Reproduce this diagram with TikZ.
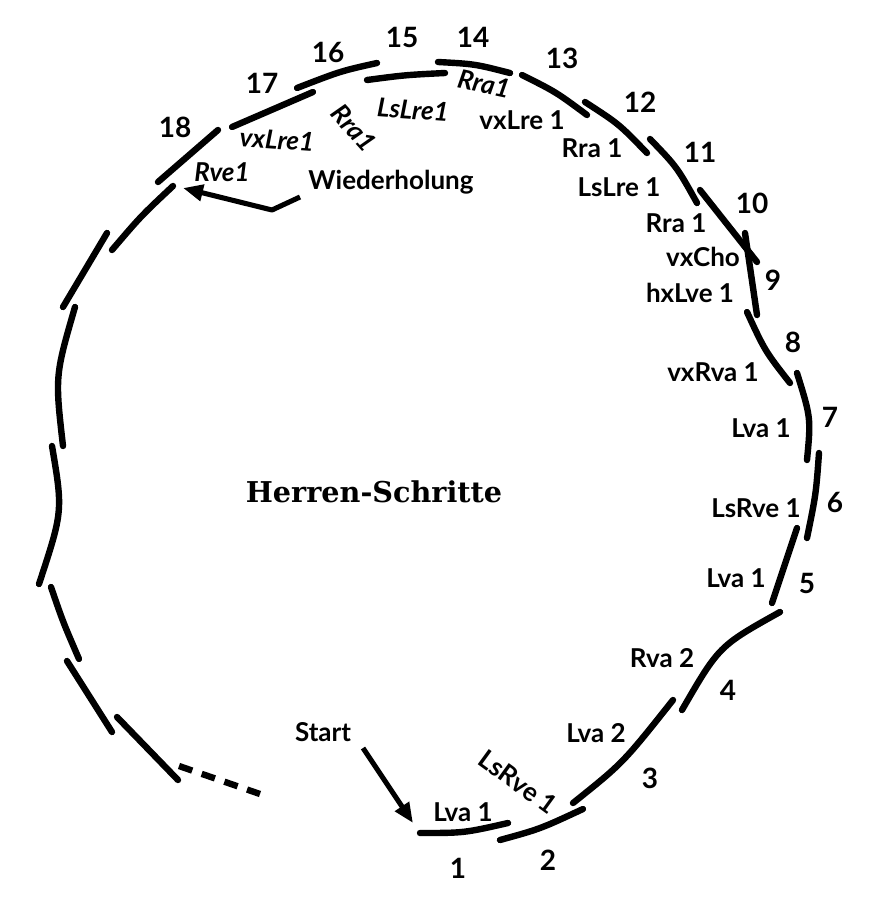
\documentclass[tikz,border=0pt]{standalone}
\usepackage{fontspec}
\setmainfont{Lato}
\newfontfamily\titlefont{DejaVu Serif}
\usetikzlibrary{arrows.meta}
\begin{document}
\begin{tikzpicture}[x=0.75pt,y=-0.75pt,
  seg/.style={line width=4.8pt, line cap=round},
  dashseg/.style={line width=4.8pt, dash pattern=on 10.5pt off 7.5pt},
  arr/.style={line width=3.8pt, line join=round, -{Triangle[length=15pt,width=12pt]}},
  num/.style={font=\fontsize{21}{21}\selectfont\bfseries, inner sep=0pt},
  lab/.style={font=\fontsize{19.5}{19.5}\selectfont\bfseries, inner sep=0pt},
  hand/.style={font=\fontsize{19.5}{19.5}\selectfont\bfseries\itshape, inner sep=0pt},
  title/.style={font=\fontsize{21.5}{21.5}\selectfont\titlefont\bfseries, inner sep=0pt}]
\fill[white] (0,0) rectangle (880,900);
\useasboundingbox (0,0) rectangle (880,900);

% track segments (step 1 .. 18 and the return path)
\draw[seg] (420,833) .. controls (464,833) .. (508,823);
\draw[seg] (500,840) .. controls (540,829) .. (583,809);
\draw[seg] (573,803) .. controls (623,763) .. (673,700);
\draw[seg] (682,710) .. controls (719,646) .. (780,612);
\draw[seg] (772,603) -- (797,528);
\draw[seg] (807,538) .. controls (816,494) .. (819,453);
\draw[seg] (807,460) .. controls (811,418) .. (797,373);
\draw[seg] (790,383) .. controls (765,351) .. (747,312);
\draw[seg] (757,315) -- (745,233);
\draw[seg] (700,190) -- (757,262);
\draw[seg] (650,139) .. controls (677,167) .. (697,203);
\draw[seg] (585,102) .. controls (619,124) .. (647,153);
\draw[seg] (522,75) .. controls (556,92) .. (587,115);
\draw[seg] (438,62) .. controls (475,64) .. (510,73);
\draw[seg] (367,80) .. controls (405,75) .. (445,73);
\draw[seg] (297,88) .. controls (341,71) .. (377,63);
\draw[seg] (232,127) -- (313,92);
\draw[seg] (218,130) -- (158,182);
\draw[seg] (173,186) .. controls (141,216) .. (112,250);
\draw[seg] (107,233) -- (63,307);
\draw[seg] (75,307) .. controls (55,376) .. (63,446);
\draw[seg] (52,446) .. controls (63,511) .. (39,584);
\draw[seg] (51,587) .. controls (63,622) .. (79,659);
\draw[seg] (67,661) -- (112,732);
\draw[seg] (117,717) -- (178,780);
\draw[dashseg] (179,766) -- (260,794);

% arrows
\coordinate (startTail) at (363,748);
\coordinate (startTip) at (413,823);
\draw[arr] (startTail) -- (startTip);
\coordinate (wA) at (300,197);
\coordinate (wB) at (272,210);
\coordinate (wTip) at (183,188);
\draw[arr] (wA) -- (wB) -- (wTip);

% numbers
\node[num] (n1) at (458,868) {1};
\node[num] (n2) at (548,860) {2};
\node[num] (n3) at (650,778) {3};
\node[num] (n4) at (728,690) {4};
\node[num] (n5) at (807,583) {5};
\node[num] (n6) at (835,502) {6};
\node[num] (n7) at (830,417) {7};
\node[num] (n8) at (793,342) {8};
\node[num] (n9) at (773,280) {9};
\node[num] (n10) at (752,203) {10};
\node[num] (n11) at (700,152) {11};
\node[num] (n12) at (640,102) {12};
\node[num] (n13) at (562,58) {13};
\node[num] (n14) at (473,37) {14};
\node[num] (n15) at (402,37) {15};
\node[num] (n16) at (328,52) {16};
\node[num] (n17) at (262,83) {17};
\node[num] (n18) at (175,127) {18};

% step labels
\node[lab] (l1) at (463,812) {Lva 1};
\node[lab, rotate=-36] (l2) at (518,782) {LsRve 1};
\node[lab] (l3) at (596,733) {Lva 2};
\node[lab] (l4) at (662,658) {Rva 2};
\node[lab] (l5) at (736,578) {Lva 1};
\node[lab] (l6) at (756,508) {LsRve 1};
\node[lab] (l7) at (761,428) {Lva 1};
\node[lab] (l8) at (713,372) {vxRva 1};
\node[lab] (l9) at (690,293) {hxLve 1};
\node[lab] (l10a) at (703,257) {vxCho};
\node[lab] (l10b) at (676,223) {Rra 1};
\node[lab] (l11) at (619,187) {LsLre 1};
\node[lab] (l12) at (592,148) {Rra 1};
\node[lab] (l13) at (522,120) {vxLre 1};
\node[hand, rotate=-12] (l14) at (484,84) {Rra1};
\node[hand, rotate=-4] (l15) at (413,110) {LsLre1};
\node[hand, rotate=-48] (l16) at (354,128) {Rra1};
\node[hand, rotate=-4] (l17) at (277,140) {vxLre1};
\node[hand] (l18) at (222,172) {Rve1};

\node[lab] (wied) at (391,182) {Wiederholung};
\node[lab] (start) at (323,732) {Start};
\node[title] (ttl) at (374,492) {Herren-Schritte};
\end{tikzpicture}
\end{document}
